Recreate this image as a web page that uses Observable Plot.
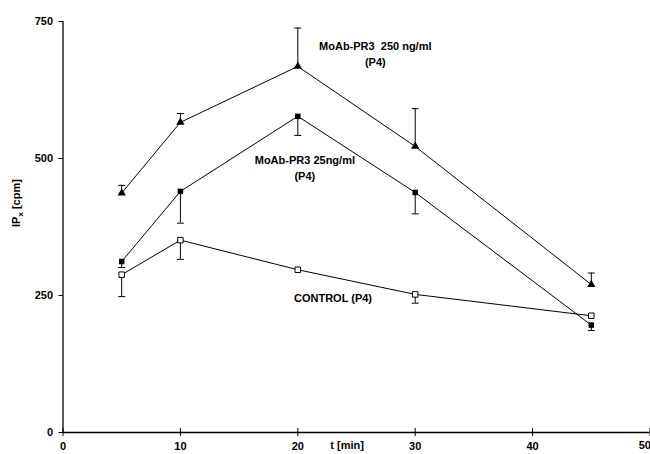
<!DOCTYPE html>
<html>
<head>
<meta charset="utf-8">
<script src="https://cdn.jsdelivr.net/npm/d3@7"></script>
<script src="https://cdn.jsdelivr.net/npm/@observablehq/plot@0.6"></script>
<style>
  html, body { margin: 0; padding: 0; background: #fff; }
  svg text { white-space: pre; }
</style>
</head>
<body>
<div id="chart"></div>
<script>
// time points (min)
const times = [5, 10, 20, 30, 45];
// MoAb-PR3 250 ng/ml (triangles), error bar ends (upper)
const mab250 = [437, 566, 668, 522, 270];
const mab250Err = [451, 582, 738, 591, 291];
// MoAb-PR3 25 ng/ml (filled squares), error bar ends (lower)
const mab25 = [312, 440, 577, 438, 196];
const mab25Err = [301, 382, 542, 399, 186];
// Control (open squares), error bar ends (lower); null = no bar
const control = [288, 351, 297, 252, 213];
const controlErr = [248, 316, null, 236, null];

const xTicks = [0, 10, 20, 30, 40, 50];
const xTickLabels = [0, 10, 20, 30, 40];
const xLastLabel = [50];
const yTicks = [0, 250, 500, 750];
const yTicksMajor = [0, 500];

const labels = [
  {t: 26.6, v: 692, text: "MoAb-PR3  250 ng/ml\n(P4)"},
  {t: 20.6, v: 485, text: "MoAb-PR3 25ng/ml\n(P4)"},
  {t: 23.0, v: 248, text: "CONTROL (P4)"}
];

const mk = (vals, errs, name) => times.map((t, i) => ({t, v: vals[i], e: errs[i], name}));
const s250 = mk(mab250, mab250Err, "250");
const s25 = mk(mab25, mab25Err, "25");
const sCtl = mk(control, controlErr, "ctl");
const errRows = [...s250, ...s25, ...sCtl].filter(d => d.e != null);

const cap = {
  draw(context, size) {
    const r = Math.sqrt(size / Math.PI);
    context.moveTo(-r, 0);
    context.lineTo(r, 0);
  }
};

const font = "Liberation Sans, Arial, sans-serif";

const chart = Plot.plot({
  width: 650,
  height: 454,
  marginLeft: 62.5,
  marginRight: 0.5,
  marginTop: 21,
  marginBottom: 22,
  style: {fontFamily: font, fontSize: "11px", fontWeight: "bold", background: "#fff", color: "#000"},
  x: {domain: [0, 50]},
  y: {domain: [0, 750]},
  marks: [
    Plot.ruleX([0], {stroke: "#000", strokeWidth: 1.3}),
    Plot.ruleY([0], {stroke: "#000", strokeWidth: 1.3}),
    // tick marks (crossing)
    Plot.axisX({ticks: xTicks, tickSize: 8, dy: -4, tickFormat: () => "", label: null, stroke: "#000"}),
    Plot.axisX({ticks: xTickLabels, tickSize: 0, tickPadding: 10, label: null, fill: "#000"}),
    Plot.text(xLastLabel, {x: d => d, frameAnchor: "bottom", dy: 16, textAnchor: "end", dx: 1, text: d => String(d), fill: "#000", fontSize: 11, fontWeight: "bold"}),
    Plot.axisY({ticks: yTicks, tickSize: 4, tickFormat: () => "", label: null, stroke: "#000"}),
    Plot.axisY({ticks: yTicksMajor, tickSize: 4, anchor: "right", frameAnchor: "left", tickFormat: () => "", label: null, stroke: "#000", dx: -587}),
    Plot.axisY({ticks: yTicks, tickSize: 0, tickPadding: 10, label: null, fill: "#000"}),
    // error bars
    Plot.ruleX(errRows, {x: "t", y1: "v", y2: "e", stroke: "#000", strokeWidth: 1}),
    Plot.dot(errRows, {x: "t", y: "e", symbol: cap, r: 3.5, stroke: "#000", strokeWidth: 1}),
    // lines
    Plot.line(s250, {x: "t", y: "v", stroke: "#000", strokeWidth: 1}),
    Plot.line(s25, {x: "t", y: "v", stroke: "#000", strokeWidth: 1}),
    Plot.line(sCtl, {x: "t", y: "v", stroke: "#000", strokeWidth: 1}),
    // markers
    Plot.dot(s250, {x: "t", y: "v", symbol: "triangle", r: 3.1, fill: "#000", stroke: "none"}),
    Plot.dot(s25, {x: "t", y: "v", symbol: "square", r: 3.1, fill: "#000", stroke: "none"}),
    Plot.dot(sCtl, {x: "t", y: "v", symbol: "square", r: 3.1, fill: "#fff", stroke: "#000", strokeWidth: 1}),
    // annotations
    Plot.text(labels, {x: "t", y: "v", text: "text", fill: "#000", lineHeight: 1.45, fontSize: 11, fontWeight: "bold"}),
    // axis titles
    Plot.text([{t: 24.2}], {x: "t", frameAnchor: "bottom", dy: 16, text: () => "t [min]", fill: "#000", fontSize: 11, fontWeight: "bold"}),
    Plot.text(["IPx [cpm]"], {frameAnchor: "left", dx: -47, rotate: -90, text: d => d, fill: "#000", fontSize: 11, fontWeight: "bold", className: "ylab"})
  ]
});

document.getElementById("chart").appendChild(chart);

// subscript x in the y-axis title
d3.select(chart).selectAll("g.ylab text").each(function() {
  const t = d3.select(this);
  t.text(null);
  t.append("tspan").text("IP");
  t.append("tspan").attr("dy", 3).attr("font-size", 8).text("x");
  t.append("tspan").attr("dy", -3).text(" [cpm]");
});
</script>
</body>
</html>
